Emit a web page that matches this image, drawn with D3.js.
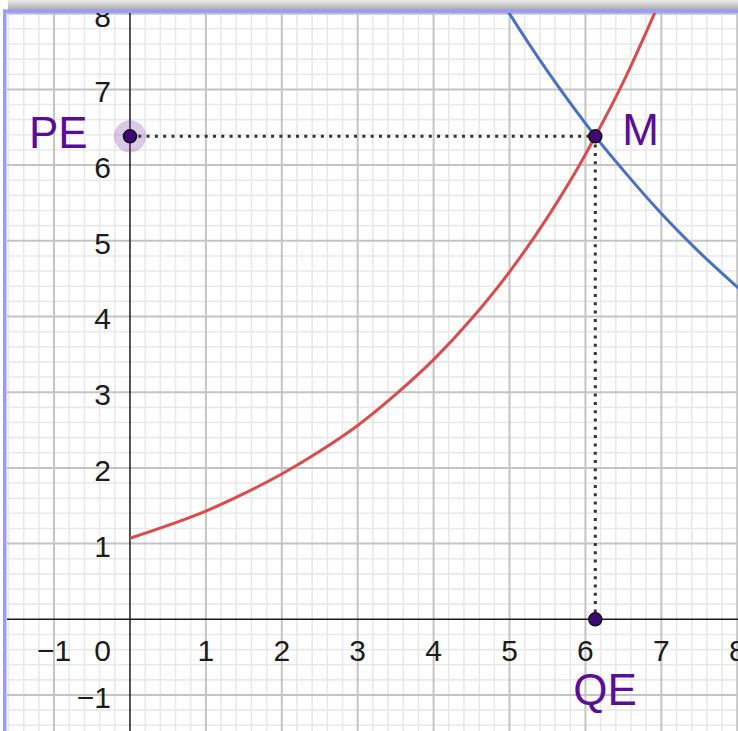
<!DOCTYPE html>
<html>
<head>
<meta charset="utf-8">
<script src="https://cdn.jsdelivr.net/npm/d3@7"></script>
<style>
  html, body { margin: 0; padding: 0; background: #ffffff; }
  svg { display: block; }
</style>
</head>
<body>
<script>
// ---- data ----
const redX = [0, 0.5, 1, 1.5, 2, 2.5, 3, 3.5, 4, 4.5, 5, 5.5, 6, 6.13, 6.5, 7];
const redY = [1.07, 1.24, 1.43, 1.66, 1.92, 2.22, 2.56, 2.97, 3.43, 3.97, 4.59, 5.31, 6.14, 6.38, 7.10, 8.21];
const blueX = [4.9, 5, 5.5, 6, 6.13, 6.5, 7, 7.5, 8, 8.1];
const blueY = [8.16, 8.0, 7.24, 6.55, 6.38, 5.93, 5.36, 4.85, 4.39, 4.30];
const xTicks = [-1, 1, 2, 3, 4, 5, 6, 7, 8];
const yTicks = [-1, 1, 2, 3, 4, 5, 6, 7, 8];
const pointNames = ["M", "PE", "QE"];
const pointX = [6.13, 0, 6.13];
const pointY = [6.38, 6.38, 0];

// ---- layout ----
const W = 738, H = 731;
const padLeft = 7, padTop = 13;
const svg = d3.select("body").append("svg").attr("width", W).attr("height", H);

const x = d3.scaleLinear().domain([-1.62, 8.01]).range([padLeft, W]);
const y = d3.scaleLinear().domain([-1.4755, 8.009]).range([H, padTop]);

const defs = svg.append("defs");
defs.append("clipPath").attr("id", "plotclip")
  .append("rect").attr("x", padLeft).attr("y", padTop).attr("width", W - padLeft).attr("height", H - padTop);
const grad = defs.append("linearGradient").attr("id", "shadow")
  .attr("x1", 0).attr("y1", 0).attr("x2", 0).attr("y2", 1);
grad.append("stop").attr("offset", "0%").attr("stop-color", "#ececec");
grad.append("stop").attr("offset", "100%").attr("stop-color", "#a9a9a9");

const plot = svg.append("g").attr("clip-path", "url(#plotclip)");

// grid
const minorX = d3.range(Math.ceil(-1.62 * 5), Math.floor(8.01 * 5) + 1).map(d => d / 5).filter(d => Math.abs(d - Math.round(d)) > 1e-6);
const minorY = d3.range(Math.ceil(-1.4755 * 5), Math.floor(8.009 * 5) + 1).map(d => d / 5).filter(d => Math.abs(d - Math.round(d)) > 1e-6);
const majorX = d3.range(-1, 9);
const majorY = d3.range(-1, 9);

plot.append("g").selectAll("line").data(minorX).join("line")
  .attr("x1", d => x(d)).attr("x2", d => x(d)).attr("y1", padTop).attr("y2", H)
  .attr("stroke", "#e9e9e9").attr("stroke-width", 1.6);
plot.append("g").selectAll("line").data(minorY).join("line")
  .attr("y1", d => y(d)).attr("y2", d => y(d)).attr("x1", padLeft).attr("x2", W)
  .attr("stroke", "#e9e9e9").attr("stroke-width", 1.6);
plot.append("g").selectAll("line").data(majorX.filter(d => d !== 0)).join("line")
  .attr("x1", d => x(d)).attr("x2", d => x(d)).attr("y1", padTop).attr("y2", H)
  .attr("stroke", "#c4c4c4").attr("stroke-width", 2);
plot.append("g").selectAll("line").data(majorY.filter(d => d !== 0)).join("line")
  .attr("y1", d => y(d)).attr("y2", d => y(d)).attr("x1", padLeft).attr("x2", W)
  .attr("stroke", "#c4c4c4").attr("stroke-width", 2);

// axes
plot.append("line").attr("x1", padLeft).attr("x2", W).attr("y1", y(0)).attr("y2", y(0))
  .attr("stroke", "#1a1a1a").attr("stroke-width", 1.5);
plot.append("line").attr("x1", x(0)).attr("x2", x(0)).attr("y1", padTop).attr("y2", H)
  .attr("stroke", "#1a1a1a").attr("stroke-width", 1.5);

// tick labels
const fontFam = "'Liberation Sans', Arial, sans-serif";
const fmt = d => (d < 0 ? "\u2212" + Math.abs(d) : String(d));
plot.append("g").selectAll("text").data(xTicks).join("text")
  .attr("x", d => x(d)).attr("y", y(0) + 42)
  .attr("text-anchor", "middle").attr("font-family", fontFam).attr("font-size", 30)
  .attr("fill", "#1c1c1c").text(fmt);
plot.append("g").selectAll("text").data(yTicks).join("text")
  .attr("x", x(0) - 19).attr("y", d => y(d) + 13)
  .attr("text-anchor", "end").attr("font-family", fontFam).attr("font-size", 30)
  .attr("fill", "#1c1c1c").text(fmt);
plot.append("text").attr("x", x(0) - 19).attr("y", y(0) + 42)
  .attr("text-anchor", "end").attr("font-family", fontFam).attr("font-size", 30)
  .attr("fill", "#1c1c1c").text("0");

// dotted guide lines
const M = { x: pointX[0], y: pointY[0] };
plot.append("line").attr("x1", x(0)).attr("y1", y(M.y)).attr("x2", x(M.x)).attr("y2", y(M.y))
  .attr("stroke", "#333").attr("stroke-width", 3).attr("stroke-dasharray", "3,5.3");
plot.append("line").attr("x1", x(M.x)).attr("y1", y(M.y)).attr("x2", x(M.x)).attr("y2", y(0))
  .attr("stroke", "#333").attr("stroke-width", 3).attr("stroke-dasharray", "3,5.3");

// curves
const line = d3.line().x(d => x(d[0])).y(d => y(d[1])).curve(d3.curveMonotoneX);
plot.append("path").datum(redX.map((v, i) => [v, redY[i]])).attr("d", line)
  .attr("fill", "none").attr("stroke", "#db4b4b").attr("stroke-width", 3);
plot.append("path").datum(blueX.map((v, i) => [v, blueY[i]])).attr("d", line)
  .attr("fill", "none").attr("stroke", "#4a70c0").attr("stroke-width", 3);

// points
const purple = "#5a0e96";
plot.append("circle").attr("cx", x(pointX[1])).attr("cy", y(pointY[1])).attr("r", 16)
  .attr("fill", "rgba(120,60,170,0.28)");
pointNames.forEach((n, i) => {
  plot.append("circle").attr("cx", x(pointX[i])).attr("cy", y(pointY[i])).attr("r", 6.5)
    .attr("fill", "#3f0a78").attr("stroke", "#111").attr("stroke-width", 1.5);
});

// point labels
plot.append("text").attr("x", x(M.x) + 27).attr("y", y(M.y) + 9)
  .attr("font-family", fontFam).attr("font-size", 44).attr("fill", purple).text(pointNames[0]);
plot.append("text").attr("x", 29).attr("y", y(pointY[1]) + 12)
  .attr("font-family", fontFam).attr("font-size", 44).attr("fill", purple).text(pointNames[1]);
plot.append("text").attr("x", x(pointX[2]) - 22).attr("y", y(0) + 86)
  .attr("font-family", fontFam).attr("font-size", 44).attr("fill", purple).text(pointNames[2]);

// frame: shadow on top, lavender border
svg.append("rect").attr("x", 8).attr("y", 0).attr("width", W - 8).attr("height", 10)
  .attr("fill", "url(#shadow)");
svg.append("rect").attr("x", 3).attr("y", 9.5).attr("width", W - 3).attr("height", 3.5)
  .attr("fill", "#9b9bff");
svg.append("rect").attr("x", 3).attr("y", 9.5).attr("width", 3.5).attr("height", H - 9.5)
  .attr("fill", "#9b9bff");
</script>
</body>
</html>
